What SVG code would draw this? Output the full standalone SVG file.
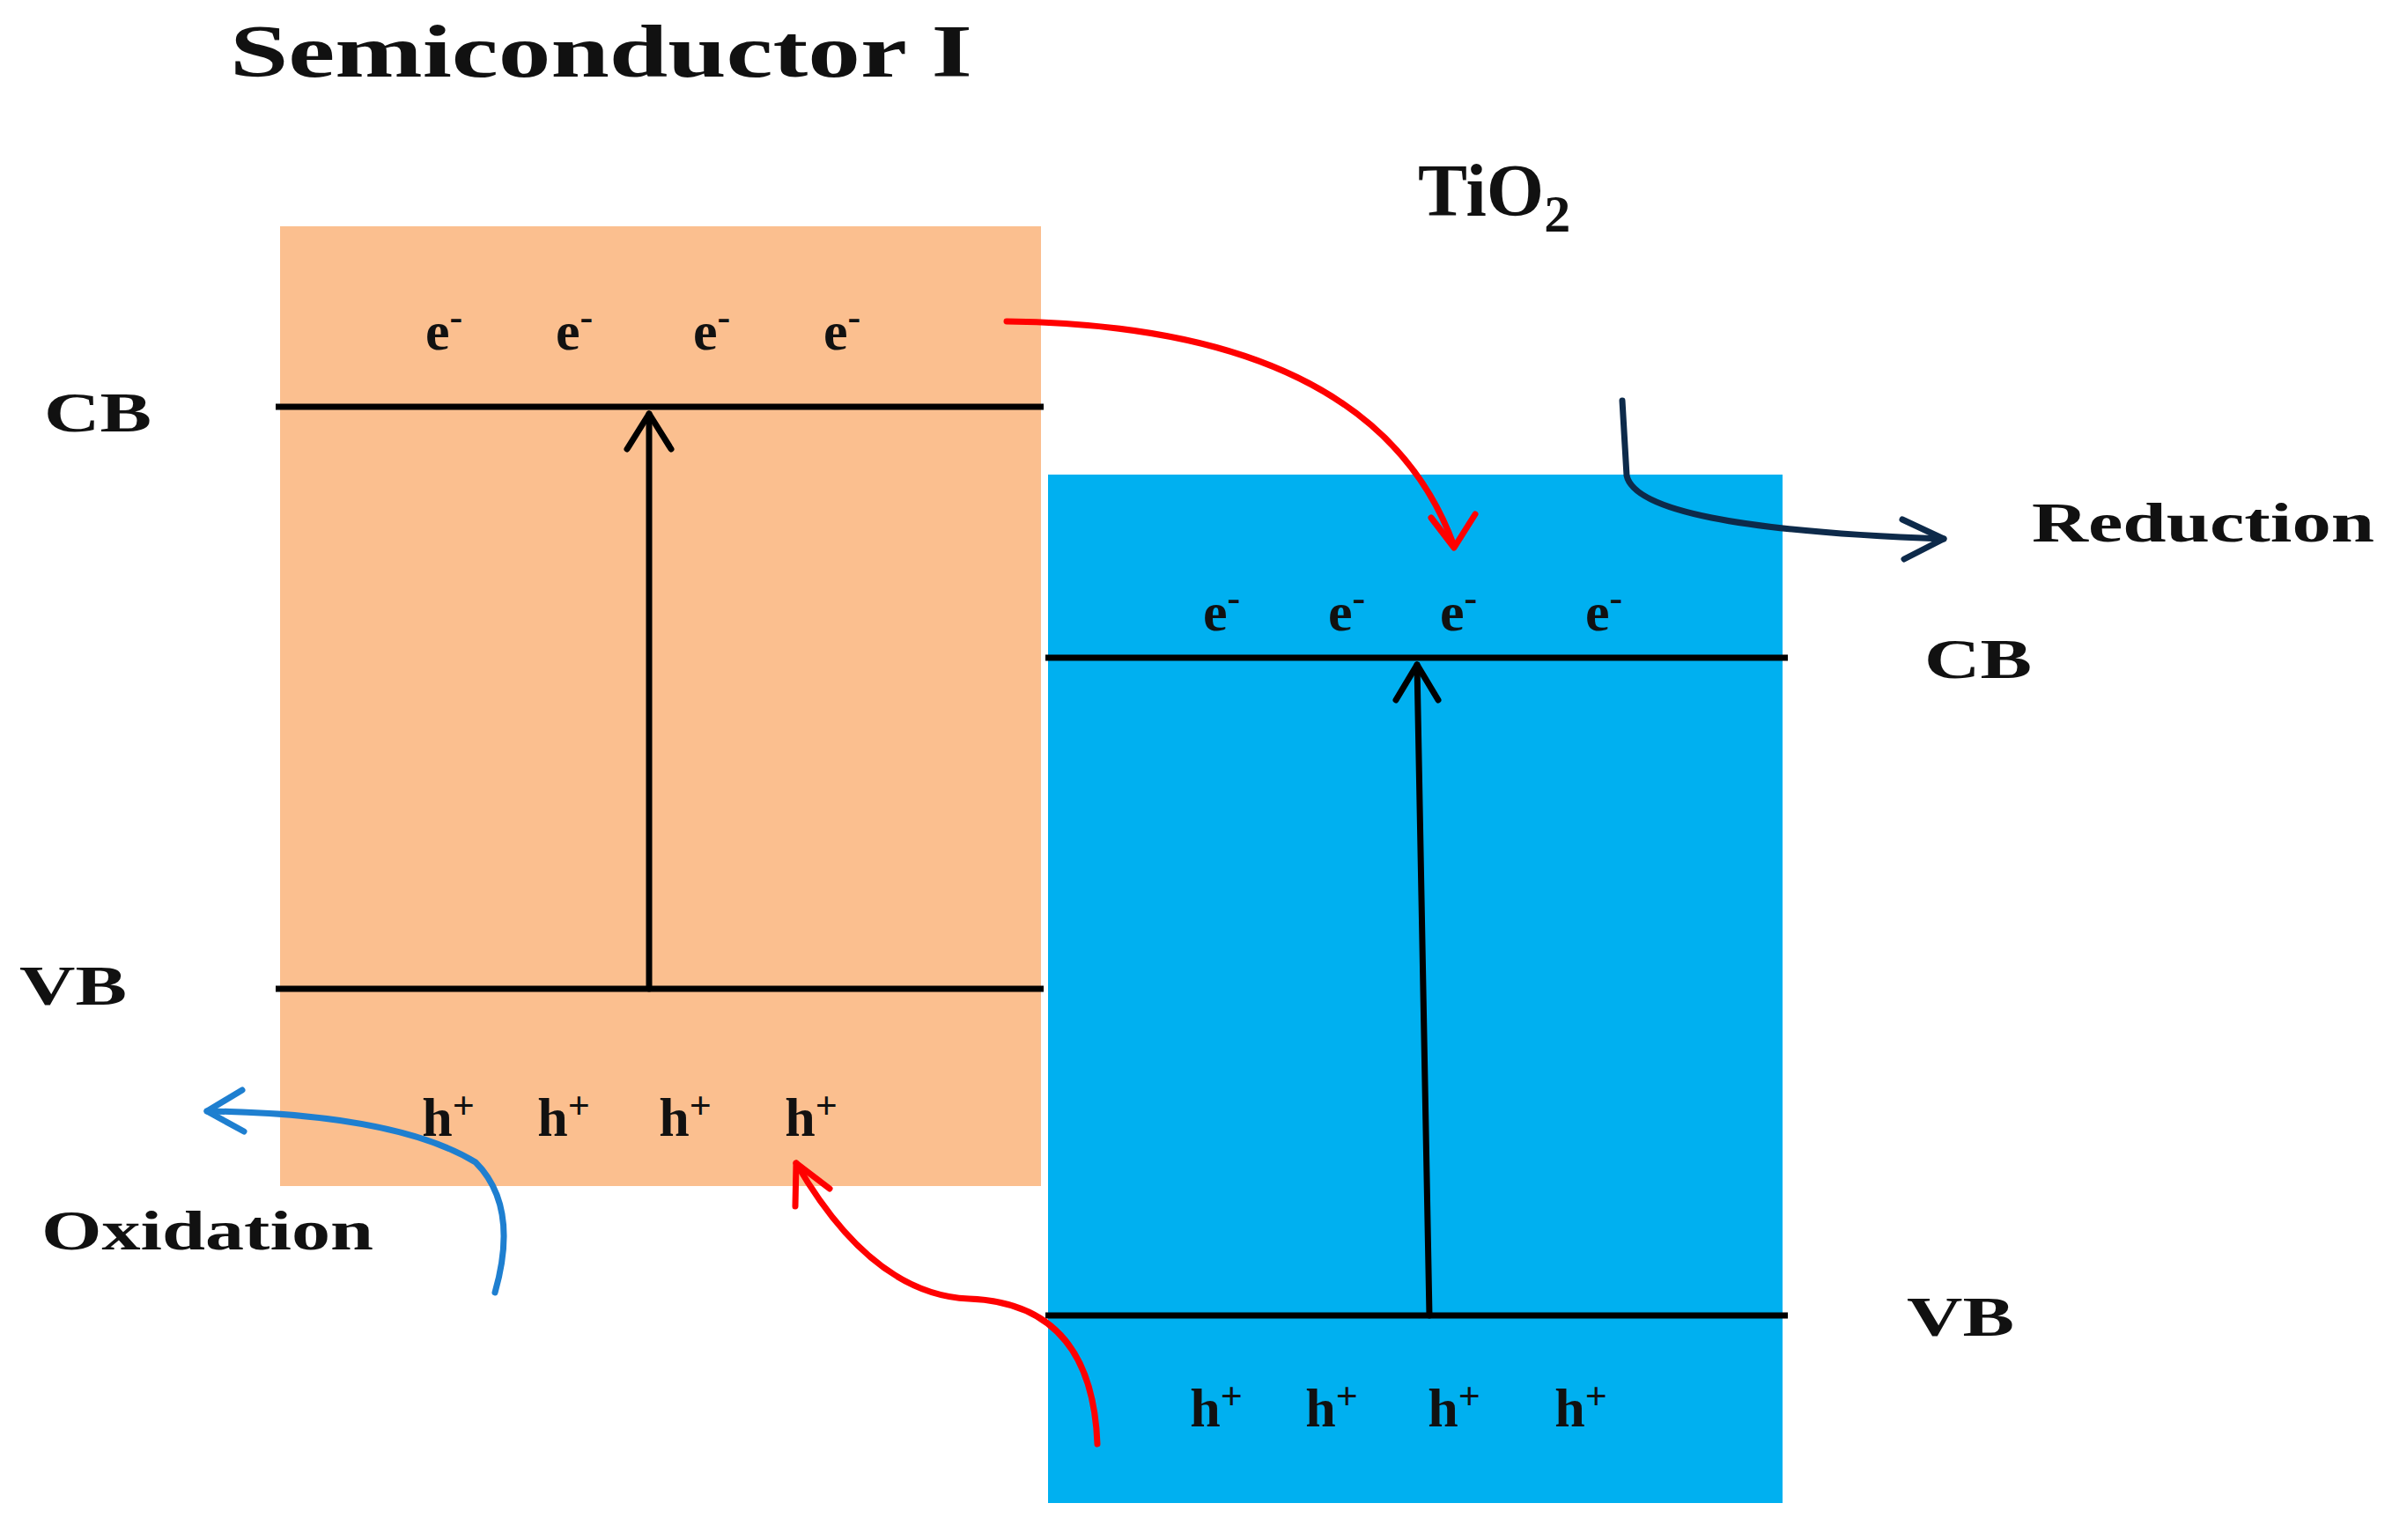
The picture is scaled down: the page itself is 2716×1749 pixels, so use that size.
<svg xmlns="http://www.w3.org/2000/svg" width="2716" height="1749" viewBox="0 0 2716 1749">
<defs>
<style>
text{font-family:"Liberation Serif","Times New Roman",serif;font-weight:bold;fill:#111}
.t{font-size:84px}.l{font-size:64px}.c{font-size:62px;text-anchor:middle}
.s{font-size:44px}
.lv{stroke:#000;stroke-width:7}
</style>
</defs>
<rect width="2716" height="1749" fill="#fff"/>
<g id="semiconductor">
<rect x="318" y="257" width="864" height="1090" fill="#fbbf8f"/>
<text x="261" y="87" class="t" textLength="843" lengthAdjust="spacingAndGlyphs">Semiconductor I</text>
<line class="lv" x1="313" y1="462" x2="1185" y2="462"/>
<line class="lv" x1="313" y1="1123" x2="1185" y2="1123"/>
<text x="50" y="490" class="l" textLength="122" lengthAdjust="spacingAndGlyphs">CB</text>
<text x="22" y="1141" class="l" textLength="122" lengthAdjust="spacingAndGlyphs">VB</text>
<text x="504" y="397" class="c">e<tspan dy="-22" class="s">-</tspan></text>
<text x="652" y="397" class="c">e<tspan dy="-22" class="s">-</tspan></text>
<text x="808" y="397" class="c">e<tspan dy="-22" class="s">-</tspan></text>
<text x="956" y="397" class="c">e<tspan dy="-22" class="s">-</tspan></text>
<text x="509" y="1290" class="c">h<tspan dy="-20" class="s">+</tspan></text>
<text x="640" y="1290" class="c">h<tspan dy="-20" class="s">+</tspan></text>
<text x="778" y="1290" class="c">h<tspan dy="-20" class="s">+</tspan></text>
<text x="921" y="1290" class="c">h<tspan dy="-20" class="s">+</tspan></text>
<text x="47" y="1419" class="l" textLength="377" lengthAdjust="spacingAndGlyphs">Oxidation</text>
</g>
<g id="tio2">
<rect x="1190" y="539" width="834" height="1168" fill="#00b0f0"/>
<text x="1610" y="245" class="t">TiO<tspan dy="18" font-size="60">2</tspan></text>
<line class="lv" x1="1187" y1="747" x2="2030" y2="747"/>
<line class="lv" x1="1187" y1="1494" x2="2030" y2="1494"/>
<text x="2185" y="770" class="l" textLength="122" lengthAdjust="spacingAndGlyphs">CB</text>
<text x="2165" y="1517" class="l" textLength="122" lengthAdjust="spacingAndGlyphs">VB</text>
<text x="1387" y="716" class="c">e<tspan dy="-22" class="s">-</tspan></text>
<text x="1529" y="716" class="c">e<tspan dy="-22" class="s">-</tspan></text>
<text x="1656" y="716" class="c">e<tspan dy="-22" class="s">-</tspan></text>
<text x="1821" y="716" class="c">e<tspan dy="-22" class="s">-</tspan></text>
<text x="1381" y="1620" class="c">h<tspan dy="-20" class="s">+</tspan></text>
<text x="1512" y="1620" class="c">h<tspan dy="-20" class="s">+</tspan></text>
<text x="1651" y="1620" class="c">h<tspan dy="-20" class="s">+</tspan></text>
<text x="1795" y="1620" class="c">h<tspan dy="-20" class="s">+</tspan></text>
<text x="2307" y="615" class="l" textLength="389" lengthAdjust="spacingAndGlyphs">Reduction</text>
</g>
<g id="connectors" fill="none" stroke-width="7" stroke-linecap="round" stroke-linejoin="round">
<path d="M737,1123 L737,470" stroke="#000"/>
<path d="M712,510 L737,470 L762,510" stroke="#000"/>
<path d="M1623,1494 L1609,755" stroke="#000"/>
<path d="M1585,795 L1609,755 L1633,795" stroke="#000"/>
<path d="M1143,365 Q1560,370 1651,620" stroke="#f00"/>
<path d="M1625,588 L1651,622 L1675,584" stroke="#f00"/>
<path d="M1842,455 L1847,540 Q1860,600 2207,612" stroke="#0d2a4a"/>
<path d="M2160,590 L2207,612 L2162,635" stroke="#0d2a4a"/>
<path d="M1246,1640 Q1240,1480 1100,1475 Q990,1470 904,1321" stroke="#f00"/>
<path d="M903,1370 L904,1321 L942,1350" stroke="#f00"/>
<path d="M562,1468 Q590,1370 540,1320 Q450,1265 235,1262" stroke="#1e7fd0"/>
<path d="M275,1238 L235,1262 L277,1285" stroke="#1e7fd0"/>
</g>
</svg>
